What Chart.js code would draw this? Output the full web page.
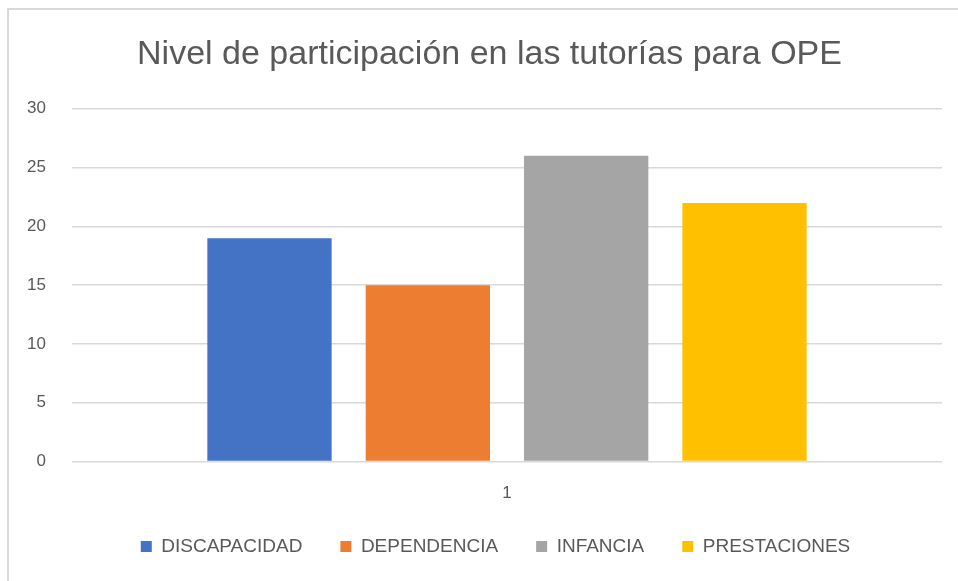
<!DOCTYPE html>
<html>
<head>
<meta charset="utf-8">
<script src="https://cdn.jsdelivr.net/npm/chart.js@4.4.0/dist/chart.umd.min.js"></script>
<style>
  body { margin: 0; background: #fff; }
  #wrap {
    position: absolute; left: 7px; top: 8px;
    width: 949px; height: 573px;
    border-left: 2px solid #d9d9d9; border-top: 2px solid #d9d9d9;
  }
</style>
</head>
<body>
<div id="wrap"><canvas id="chart"></canvas></div>
<script>
const categories = ['1'];
const seriesNames = ['DISCAPACIDAD', 'DEPENDENCIA', 'INFANCIA', 'PRESTACIONES'];
const seriesValues = [[19], [15], [26], [22]];
const seriesColors = ['#4472C4', '#ED7D31', '#A5A5A5', '#FFC000'];
const yTicks = [0, 5, 10, 15, 20, 25, 30];

Chart.defaults.color = '#595959';
Chart.defaults.font.family = "'Liberation Sans', sans-serif";

// nudge title and legend a little to the right, like the original
const shiftBlocks = {
    id: 'shiftBlocks',
    afterLayout(chart) {
        if (chart.legend) { chart.legend.left += 12; chart.legend.right += 12; }
        if (chart.titleBlock) { chart.titleBlock.left += 6; chart.titleBlock.right += 6; }
    }
};

const ctx = document.getElementById('chart').getContext('2d');
const chart = new Chart(ctx, {
    type: 'bar',
    data: {
        labels: categories,
        datasets: seriesNames.map((name, i) => ({
            label: name,
            data: seriesValues[i],
            backgroundColor: seriesColors[i],
            borderWidth: 0,
            categoryPercentage: 0.728,
            barPercentage: 0.785
        }))
    },
    options: {
        responsive: true,
        maintainAspectRatio: false,
        animation: false,
        layout: { padding: { left: 16, right: 16, top: 24, bottom: 17 } },
        plugins: {
            title: {
                display: true,
                text: 'Nivel de participación en las tutorías para OPE',
                font: { size: 34, weight: 'normal' },
                color: '#595959',
                padding: { top: 0, bottom: 34 }
            },
            legend: {
                position: 'bottom',
                labels: {
                    boxWidth: 11,
                    boxHeight: 11,
                    padding: 38,
                    font: { size: 19 },
                    color: '#595959'
                }
            },
            tooltip: { enabled: false }
        },
        scales: {
            x: {
                grid: { display: false },
                border: { display: false },
                ticks: { font: { size: 17 }, padding: 14 },
                afterFit: (s) => { s.height -= 19; }
            },
            y: {
                min: yTicks[0],
                max: yTicks[yTicks.length - 1],
                afterBuildTicks: (s) => { s.ticks = yTicks.map(v => ({ value: v })); },
                afterFit: (s) => { s.width = 47; },
                grid: { color: '#d9d9d9', lineWidth: 1.5, drawTicks: false },
                border: { display: false },
                ticks: { font: { size: 17 }, padding: 26 }
            }
        }
    },
    plugins: [shiftBlocks]
});
</script>
</body>
</html>
